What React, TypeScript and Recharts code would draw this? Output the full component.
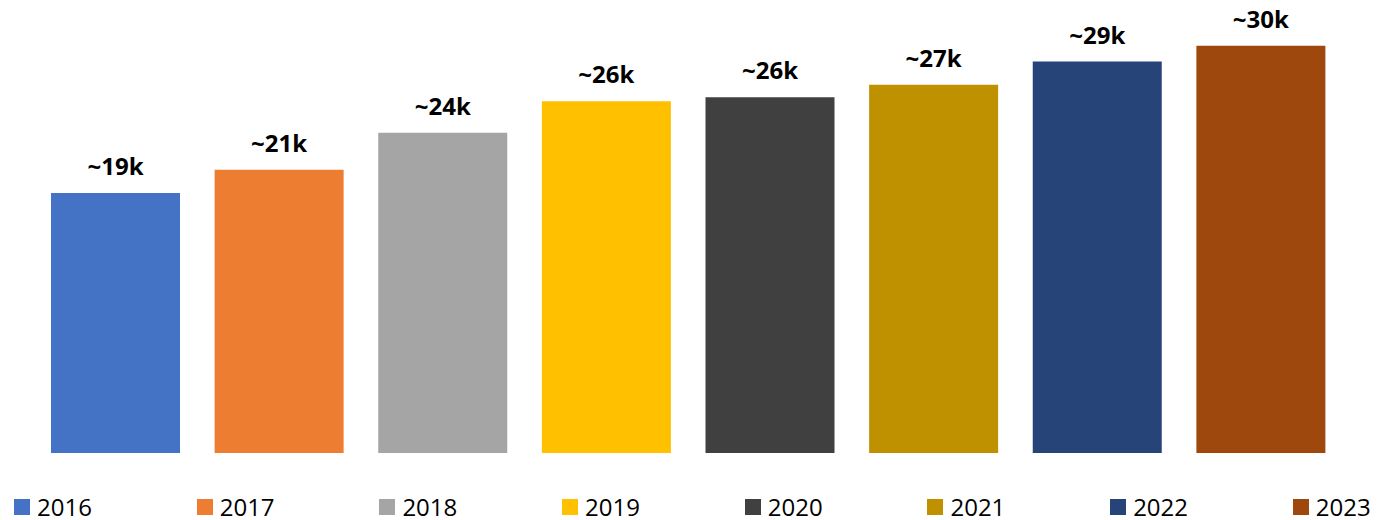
import { BarChart, Bar, Cell, XAxis, YAxis, LabelList } from 'recharts';

// values in thousands
const years = ['2016', '2017', '2018', '2019', '2020', '2021', '2022', '2023'];
const counts = [19.0, 20.7, 23.4, 25.7, 26.0, 26.9, 28.6, 29.75];
const labels = ['~19k', '~21k', '~24k', '~26k', '~26k', '~27k', '~29k', '~30k'];
const colors = ['#4472C4', '#ED7D31', '#A5A5A5', '#FFC000', '#404040', '#BF9000', '#264478', '#9E480E'];

const data = years.map((year, i) => ({ year, value: counts[i], label: labels[i] }));

const FONT = '"Open Sans", "Liberation Sans", sans-serif';

export default function App() {
  return (
    <div
      style={{
        position: 'absolute',
        left: 0,
        top: 0,
        width: 1389,
        height: 520,
        background: '#fff',
        fontFamily: FONT,
        overflow: 'hidden',
      }}
    >
      <BarChart
        width={1389}
        height={520}
        data={data}
        margin={{ top: 15, right: 46, bottom: 67, left: 34 }}
      >
        <XAxis dataKey="year" hide />
        <YAxis domain={[0, 32]} hide />
        <Bar dataKey="value" barSize={129} isAnimationActive={false}>
          {data.map((entry, index) => (
            <Cell key={`cell-${index}`} fill={colors[index]} />
          ))}
          <LabelList
            dataKey="label"
            position="top"
            offset={18}
            style={{ fontFamily: FONT, fontSize: 24, fontWeight: 700, fill: '#000' }}
          />
        </Bar>
      </BarChart>
      <div style={{ position: 'absolute', left: 14, top: 495, display: 'flex' }}>
        {years.map((year, i) => (
          <div key={year} style={{ width: 182.7, height: 24, display: 'flex', alignItems: 'center' }}>
            <span style={{ width: 16, height: 16, background: colors[i], display: 'inline-block' }} />
            <span style={{ marginLeft: 7, fontSize: 24, color: '#000', lineHeight: '24px' }}>{year}</span>
          </div>
        ))}
      </div>
    </div>
  );
}
